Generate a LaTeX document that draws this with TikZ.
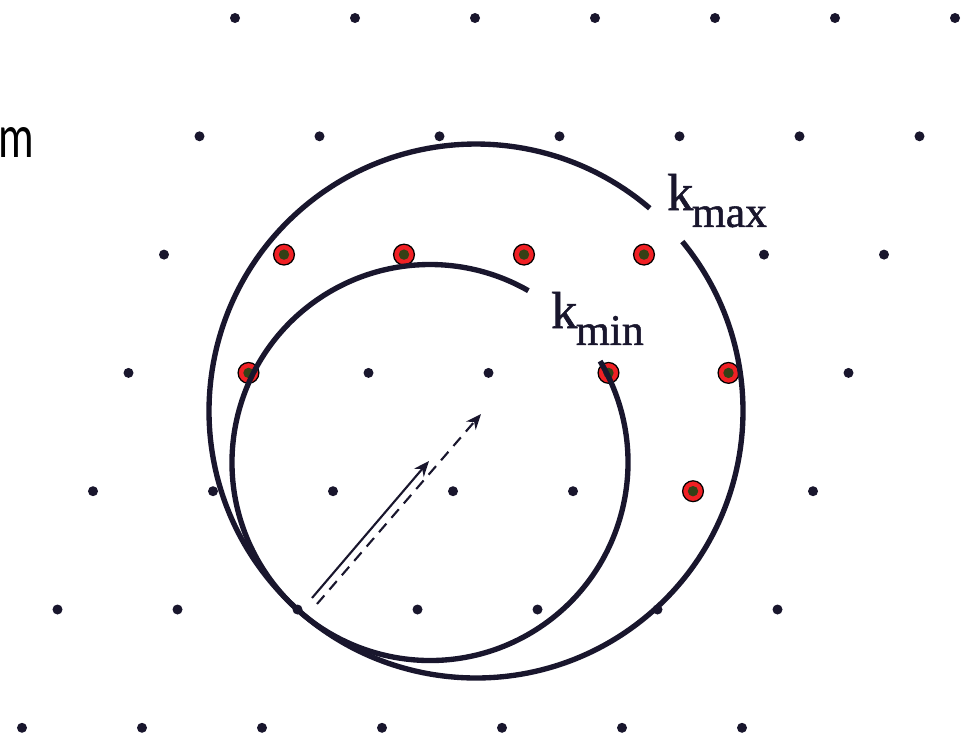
\documentclass[tikz,border=0pt]{standalone}
\usepackage{fontspec}
\setmainfont{Liberation Serif}
\newfontface\labelfont{Liberation Serif}[FakeBold=1.2]
\newfontfamily\cutfont{Carlito}
\usetikzlibrary{arrows.meta}
\definecolor{inkblack}{RGB}{25,22,45}
\definecolor{hitred}{RGB}{240,32,36}
\definecolor{hitcore}{RGB}{52,64,22}
\tikzset{
  latdot/.style={circle, fill=inkblack, inner sep=0pt, minimum size=0.25cm},
  hitdot/.style={circle, draw=black, line width=0.9pt, fill=hitred, inner sep=0pt, minimum size=0.52cm,
    path picture={\fill[hitcore] (path picture bounding box.center) circle (0.13cm);}},
  ring/.style={draw=inkblack, line width=3.8pt},
  kvec/.style={draw=inkblack, line width=1.5pt, -{Stealth[length=11pt,width=9pt]}},
  klabel/.style={anchor=base west, inner sep=0pt, text=inkblack, font=\labelfont\fontsize{37}{40}\selectfont},
}
\begin{document}
\begin{tikzpicture}[x=0.025cm, y=-0.025cm]

\useasboundingbox (0,0) rectangle (973,742);
\clip (0,0) rectangle (973,742);

% -----------------------------------------
% cut-off text at the left edge
% -----------------------------------------
\node[anchor=base west, inner sep=0pt, font=\cutfont\fontsize{44}{48}\selectfont,
      xscale=0.72, transform shape] (cutm) at (-2,157) {m};

% -----------------------------------------
% reciprocal lattice
% -----------------------------------------
\foreach \r in {0,...,6}
  \foreach \c in {0,...,6}
    \node[latdot] (p-\r-\c) at ({235-35.5*\r+120*\c},{18+118.3*\r}) {};

% points between the two spheres
\foreach \r/\c in {2/1,2/2,2/3,2/4,3/1,3/4,3/5,4/5}
  \node[hitdot] (h-\r-\c) at (p-\r-\c) {};

% -----------------------------------------
% the two circles, touching at the origin
% -----------------------------------------
\coordinate (O) at (p-5-2);
\coordinate (cmin) at (430,462.5);
\coordinate (cmax) at (476,411);

\draw[ring] (cmax) ++(-39.4:267) arc[start angle=-39.4, end angle=310.6, radius=267];
\draw[ring] (cmin) ++(-30.8:198) arc[start angle=-30.8, end angle=299.8, radius=198];

\node[klabel] (kmaxlbl) at (667,210) {k\kern-1pt\raisebox{-12pt}{\fontsize{31}{34}\selectfont max}};
\node[klabel] (kminlbl) at (551,328) {k\kern-1pt\raisebox{-12pt}{\fontsize{31}{34}\selectfont min}};

% -----------------------------------------
% wave vectors
% -----------------------------------------
\coordinate (kminfoot) at (312,598);
\coordinate (kmintip)  at (429,461);
\coordinate (kmaxfoot) at (317,604);
\coordinate (kmaxtip)  at (481,414);

\draw[kvec] (kminfoot) -- (kmintip);
\draw[kvec, dash pattern=on 8pt off 5.5pt] (kmaxfoot) -- (kmaxtip);
\end{tikzpicture}
\end{document}
